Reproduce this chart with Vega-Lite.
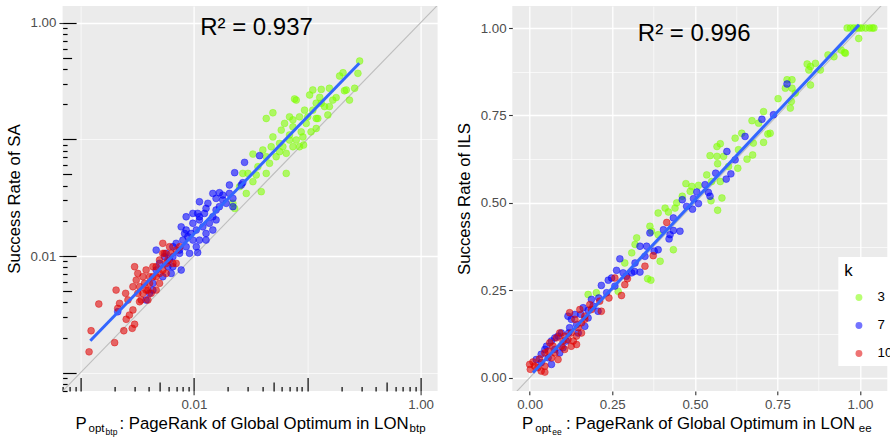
{
  "$schema": "https://vega.github.io/schema/vega-lite/v6.json",
  "autosize": {"type": "pad"},
  "padding": {"left": 6.6, "top": 6, "right": 0, "bottom": 0},
  "background": "white",
  "bounds": "flush",
  "spacing": 74.7,
  "config": {
    "font": "Liberation Sans",
    "view": {"fill": "#EBEBEB", "stroke": null},
    "axis": {"labelFont": "Liberation Sans", "titleFont": "Liberation Sans"},
    "legend": {"labelFont": "Liberation Sans", "titleFont": "Liberation Sans"}
  },
  "datasets": {
    "sa": [
      {"p":0.290,"sr":0.469,"k":"3"},{"p":0.280,"sr":0.368,"k":"3"},{"p":0.193,"sr":0.349,"k":"3"},{"p":0.207,"sr":0.372,"k":"3"},{"p":0.213,"sr":0.261,"k":"3"},{"p":0.180,"sr":0.228,"k":"3"},{"p":0.133,"sr":0.268,"k":"3"},{"p":0.112,"sr":0.265,"k":"3"},{"p":0.129,"sr":0.229,"k":"3"},{"p":0.105,"sr":0.240,"k":"3"},{"p":0.133,"sr":0.204,"k":"3"},{"p":0.0773,"sr":0.222,"k":"3"},{"p":0.0947,"sr":0.178,"k":"3"},{"p":0.112,"sr":0.178,"k":"3"},{"p":0.0855,"sr":0.156,"k":"3"},{"p":0.0698,"sr":0.156,"k":"3"},{"p":0.0631,"sr":0.137,"k":"3"},{"p":0.0498,"sr":0.169,"k":"3"},{"p":0.0435,"sr":0.151,"k":"3"},{"p":0.059,"sr":0.120,"k":"3"},{"p":0.0748,"sr":0.128,"k":"3"},{"p":0.0885,"sr":0.116,"k":"3"},{"p":0.098,"sr":0.137,"k":"3"},{"p":0.120,"sr":0.151,"k":"3"},{"p":0.108,"sr":0.116,"k":"3"},{"p":0.0916,"sr":0.105,"k":"3"},{"p":0.080,"sr":0.0987,"k":"3"},{"p":0.0698,"sr":0.0987,"k":"3"},{"p":0.057,"sr":0.0924,"k":"3"},{"p":0.0498,"sr":0.105,"k":"3"},{"p":0.0481,"sr":0.0865,"k":"3"},{"p":0.061,"sr":0.0865,"k":"3"},{"p":0.0748,"sr":0.0865,"k":"3"},{"p":0.0855,"sr":0.0865,"k":"3"},{"p":0.0653,"sr":0.0759,"k":"3"},{"p":0.057,"sr":0.0784,"k":"3"},{"p":0.0406,"sr":0.081,"k":"3"},{"p":0.0435,"sr":0.071,"k":"3"},{"p":0.0532,"sr":0.071,"k":"3"},{"p":0.0465,"sr":0.0623,"k":"3"},{"p":0.0367,"sr":0.0583,"k":"3"},{"p":0.0332,"sr":0.0748,"k":"3"},{"p":0.030,"sr":0.0511,"k":"3"},{"p":0.0355,"sr":0.0495,"k":"3"},{"p":0.0435,"sr":0.0511,"k":"3"},{"p":0.0653,"sr":0.0511,"k":"3"},{"p":0.0332,"sr":0.0434,"k":"3"},{"p":0.0393,"sr":0.0356,"k":"3"},{"p":0.0253,"sr":0.0393,"k":"3"},{"p":0.029,"sr":0.0344,"k":"3"},{"p":0.0229,"sr":0.0256,"k":"3"},{"p":0.0221,"sr":0.0283,"k":"3"},{"p":0.027,"sr":0.0511,"k":"3"},{"p":0.0929,"sr":0.0894,"k":"3"},{"p":0.0698,"sr":0.109,"k":"3"},{"p":0.120,"sr":0.124,"k":"3"},{"p":0.142,"sr":0.191,"k":"3"},{"p":0.157,"sr":0.191,"k":"3"},{"p":0.168,"sr":0.217,"k":"3"},{"p":0.124,"sr":0.151,"k":"3"},{"p":0.262,"sr":0.274,"k":"3"},{"p":0.157,"sr":0.274,"k":"3"},{"p":0.236,"sr":0.217,"k":"3"},{"p":0.080,"sr":0.217,"k":"3"},{"p":0.0748,"sr":0.147,"k":"3"},{"p":0.221,"sr":0.265,"k":"3"},{"p":0.120,"sr":0.204,"k":"3"},{"p":0.152,"sr":0.162,"k":"3"},{"p":0.101,"sr":0.156,"k":"3"},
      {"p":0.038,"sr":0.0725,"k":"7"},{"p":0.028,"sr":0.0635,"k":"7"},{"p":0.0229,"sr":0.0518,"k":"7"},{"p":0.027,"sr":0.0425,"k":"7"},{"p":0.0206,"sr":0.0406,"k":"7"},{"p":0.0168,"sr":0.0349,"k":"7"},{"p":0.0157,"sr":0.0312,"k":"7"},{"p":0.018,"sr":0.0333,"k":"7"},{"p":0.0206,"sr":0.0344,"k":"7"},{"p":0.0221,"sr":0.0312,"k":"7"},{"p":0.0147,"sr":0.0344,"k":"7"},{"p":0.0133,"sr":0.0283,"k":"7"},{"p":0.0112,"sr":0.0292,"k":"7"},{"p":0.0108,"sr":0.0232,"k":"7"},{"p":0.0124,"sr":0.0232,"k":"7"},{"p":0.0157,"sr":0.0248,"k":"7"},{"p":0.0193,"sr":0.0283,"k":"7"},{"p":0.0168,"sr":0.0265,"k":"7"},{"p":0.0147,"sr":0.0217,"k":"7"},{"p":0.0112,"sr":0.0204,"k":"7"},{"p":0.0098,"sr":0.0191,"k":"7"},{"p":0.00855,"sr":0.0167,"k":"7"},{"p":0.00947,"sr":0.0156,"k":"7"},{"p":0.0105,"sr":0.0167,"k":"7"},{"p":0.012,"sr":0.0178,"k":"7"},{"p":0.0128,"sr":0.0156,"k":"7"},{"p":0.0147,"sr":0.0167,"k":"7"},{"p":0.0157,"sr":0.0204,"k":"7"},{"p":0.008,"sr":0.0137,"k":"7"},{"p":0.00855,"sr":0.012,"k":"7"},{"p":0.0098,"sr":0.0137,"k":"7"},{"p":0.0112,"sr":0.0137,"k":"7"},{"p":0.0128,"sr":0.0137,"k":"7"},{"p":0.00748,"sr":0.01054,"k":"7"},{"p":0.00653,"sr":0.00987,"k":"7"},{"p":0.00916,"sr":0.01054,"k":"7"},{"p":0.0108,"sr":0.0107,"k":"7"},{"p":0.00773,"sr":0.00759,"k":"7"},{"p":0.00631,"sr":0.0071,"k":"7"},{"p":0.0059,"sr":0.0081,"k":"7"},{"p":0.0057,"sr":0.01054,"k":"7"},{"p":0.00498,"sr":0.00865,"k":"7"},{"p":0.00465,"sr":0.01125,"k":"7"},{"p":0.00465,"sr":0.00759,"k":"7"},{"p":0.00532,"sr":0.00665,"k":"7"},{"p":0.00435,"sr":0.00583,"k":"7"},{"p":0.00406,"sr":0.00479,"k":"7"},{"p":0.00379,"sr":0.0042,"k":"7"},{"p":0.00213,"sr":0.00333,"k":"7"},{"p":0.00748,"sr":0.01125,"k":"7"},{"p":0.00885,"sr":0.01466,"k":"7"},{"p":0.00773,"sr":0.0178,"k":"7"},{"p":0.0112,"sr":0.0217,"k":"7"},{"p":0.0128,"sr":0.0256,"k":"7"},{"p":0.00855,"sr":0.0217,"k":"7"},{"p":0.00653,"sr":0.012,"k":"7"},{"p":0.0061,"sr":0.00924,"k":"7"},{"p":0.00435,"sr":0.00511,"k":"7"},{"p":0.0221,"sr":0.0265,"k":"7"},{"p":0.0262,"sr":0.0406,"k":"7"},{"p":0.018,"sr":0.0302,"k":"7"},{"p":0.0098,"sr":0.0232,"k":"7"},{"p":0.00828,"sr":0.0156,"k":"7"},{"p":0.00698,"sr":0.01285,"k":"7"},{"p":0.0105,"sr":0.012,"k":"7"},{"p":0.0137,"sr":0.0191,"k":"7"},{"p":0.00653,"sr":0.0081,"k":"7"},{"p":0.00551,"sr":0.00987,"k":"7"},
      {"p":0.00119,"sr":0.00151,"k":"10"},{"p":0.00124,"sr":0.00229,"k":"10"},{"p":0.00145,"sr":0.00388,"k":"10"},{"p":0.002,"sr":0.00181,"k":"10"},{"p":0.00241,"sr":0.00229,"k":"10"},{"p":0.00253,"sr":0.00287,"k":"10"},{"p":0.0027,"sr":0.00312,"k":"10"},{"p":0.00286,"sr":0.0024,"k":"10"},{"p":0.003,"sr":0.0026,"k":"10"},{"p":0.00221,"sr":0.00393,"k":"10"},{"p":0.00206,"sr":0.00511,"k":"10"},{"p":0.00213,"sr":0.00356,"k":"10"},{"p":0.0025,"sr":0.00479,"k":"10"},{"p":0.00262,"sr":0.0042,"k":"10"},{"p":0.003,"sr":0.0081,"k":"10"},{"p":0.0031,"sr":0.00622,"k":"10"},{"p":0.00332,"sr":0.00546,"k":"10"},{"p":0.00343,"sr":0.0042,"k":"10"},{"p":0.00355,"sr":0.00665,"k":"10"},{"p":0.00379,"sr":0.00759,"k":"10"},{"p":0.00393,"sr":0.00511,"k":"10"},{"p":0.00406,"sr":0.00583,"k":"10"},{"p":0.00435,"sr":0.00665,"k":"10"},{"p":0.00465,"sr":0.0081,"k":"10"},{"p":0.00498,"sr":0.00924,"k":"10"},{"p":0.00532,"sr":0.01285,"k":"10"},{"p":0.00551,"sr":0.01054,"k":"10"},{"p":0.0057,"sr":0.00865,"k":"10"},{"p":0.00498,"sr":0.00583,"k":"10"},{"p":0.00465,"sr":0.00511,"k":"10"},{"p":0.0042,"sr":0.00479,"k":"10"},{"p":0.00355,"sr":0.00479,"k":"10"},{"p":0.00631,"sr":0.01054,"k":"10"},{"p":0.00698,"sr":0.01125,"k":"10"},{"p":0.0061,"sr":0.012,"k":"10"},{"p":0.00748,"sr":0.012,"k":"10"},{"p":0.0029,"sr":0.00546,"k":"10"},{"p":0.0032,"sr":0.0071,"k":"10"},{"p":0.00367,"sr":0.00583,"k":"10"},{"p":0.0029,"sr":0.00345,"k":"10"},{"p":0.00332,"sr":0.00406,"k":"10"},{"p":0.00435,"sr":0.0081,"k":"10"},{"p":0.00532,"sr":0.00759,"k":"10"},{"p":0.0057,"sr":0.0071,"k":"10"},{"p":0.00465,"sr":0.00665,"k":"10"},{"p":0.0059,"sr":0.00924,"k":"10"},{"p":0.00653,"sr":0.00865,"k":"10"},{"p":0.00406,"sr":0.00665,"k":"10"},{"p":0.00532,"sr":0.01054,"k":"10"},{"p":0.00379,"sr":0.00511,"k":"10"},{"p":0.0032,"sr":0.00479,"k":"10"},{"p":0.00698,"sr":0.00865,"k":"10"},{"p":0.00498,"sr":0.0071,"k":"10"},{"p":0.00393,"sr":0.0042,"k":"10"}
    ],
    "ils": [
      {"p":0.961,"sr":1.0,"k":"3"},{"p":0.971,"sr":1.0,"k":"3"},{"p":0.981,"sr":1.0,"k":"3"},{"p":0.991,"sr":1.0,"k":"3"},{"p":0.998,"sr":1.0,"k":"3"},{"p":1.005,"sr":1.0,"k":"3"},{"p":1.017,"sr":1.0,"k":"3"},{"p":1.029,"sr":1.0,"k":"3"},{"p":1.037,"sr":1.0,"k":"3"},{"p":1.042,"sr":1.0,"k":"3"},{"p":0.996,"sr":0.970,"k":"3"},{"p":0.953,"sr":0.930,"k":"3"},{"p":0.943,"sr":0.937,"k":"3"},{"p":0.921,"sr":0.918,"k":"3"},{"p":0.903,"sr":0.923,"k":"3"},{"p":0.956,"sr":0.928,"k":"3"},{"p":0.865,"sr":0.899,"k":"3"},{"p":0.850,"sr":0.890,"k":"3"},{"p":0.840,"sr":0.897,"k":"3"},{"p":0.845,"sr":0.880,"k":"3"},{"p":0.880,"sr":0.880,"k":"3"},{"p":0.850,"sr":0.837,"k":"3"},{"p":0.794,"sr":0.852,"k":"3"},{"p":0.779,"sr":0.852,"k":"3"},{"p":0.774,"sr":0.828,"k":"3"},{"p":0.794,"sr":0.828,"k":"3"},{"p":0.789,"sr":0.771,"k":"3"},{"p":0.792,"sr":0.790,"k":"3"},{"p":0.752,"sr":0.798,"k":"3"},{"p":0.708,"sr":0.761,"k":"3"},{"p":0.673,"sr":0.735,"k":"3"},{"p":0.708,"sr":0.673,"k":"3"},{"p":0.728,"sr":0.699,"k":"3"},{"p":0.721,"sr":0.697,"k":"3"},{"p":0.677,"sr":0.671,"k":"3"},{"p":0.642,"sr":0.699,"k":"3"},{"p":0.658,"sr":0.625,"k":"3"},{"p":0.675,"sr":0.637,"k":"3"},{"p":0.630,"sr":0.599,"k":"3"},{"p":0.632,"sr":0.652,"k":"3"},{"p":0.577,"sr":0.669,"k":"3"},{"p":0.567,"sr":0.661,"k":"3"},{"p":0.546,"sr":0.635,"k":"3"},{"p":0.567,"sr":0.633,"k":"3"},{"p":0.587,"sr":0.633,"k":"3"},{"p":0.602,"sr":0.604,"k":"3"},{"p":0.569,"sr":0.612,"k":"3"},{"p":0.536,"sr":0.580,"k":"3"},{"p":0.551,"sr":0.561,"k":"3"},{"p":0.577,"sr":0.561,"k":"3"},{"p":0.582,"sr":0.514,"k":"3"},{"p":0.569,"sr":0.479,"k":"3"},{"p":0.549,"sr":0.506,"k":"3"},{"p":0.511,"sr":0.550,"k":"3"},{"p":0.491,"sr":0.547,"k":"3"},{"p":0.473,"sr":0.555,"k":"3"},{"p":0.486,"sr":0.533,"k":"3"},{"p":0.462,"sr":0.519,"k":"3"},{"p":0.445,"sr":0.500,"k":"3"},{"p":0.440,"sr":0.485,"k":"3"},{"p":0.410,"sr":0.485,"k":"3"},{"p":0.420,"sr":0.474,"k":"3"},{"p":0.389,"sr":0.471,"k":"3"},{"p":0.364,"sr":0.433,"k":"3"},{"p":0.369,"sr":0.419,"k":"3"},{"p":0.389,"sr":0.409,"k":"3"},{"p":0.435,"sr":0.366,"k":"3"},{"p":0.395,"sr":0.333,"k":"3"},{"p":0.367,"sr":0.279,"k":"3"},{"p":0.357,"sr":0.283,"k":"3"},{"p":0.324,"sr":0.400,"k":"3"},{"p":0.309,"sr":0.357,"k":"3"},{"p":0.319,"sr":0.381,"k":"3"},{"p":0.288,"sr":0.328,"k":"3"},{"p":0.268,"sr":0.247,"k":"3"},{"p":0.177,"sr":0.238,"k":"3"},{"p":0.202,"sr":0.243,"k":"3"},{"p":0.804,"sr":0.814,"k":"3"},{"p":0.693,"sr":0.728,"k":"3"},{"p":0.622,"sr":0.685,"k":"3"},
      {"p":0.779,"sr":0.840,"k":"7"},{"p":0.703,"sr":0.739,"k":"7"},{"p":0.738,"sr":0.752,"k":"7"},{"p":0.652,"sr":0.690,"k":"7"},{"p":0.597,"sr":0.647,"k":"7"},{"p":0.622,"sr":0.623,"k":"7"},{"p":0.609,"sr":0.583,"k":"7"},{"p":0.595,"sr":0.568,"k":"7"},{"p":0.563,"sr":0.585,"k":"7"},{"p":0.546,"sr":0.519,"k":"7"},{"p":0.541,"sr":0.530,"k":"7"},{"p":0.531,"sr":0.552,"k":"7"},{"p":0.506,"sr":0.531,"k":"7"},{"p":0.496,"sr":0.512,"k":"7"},{"p":0.511,"sr":0.498,"k":"7"},{"p":0.493,"sr":0.482,"k":"7"},{"p":0.462,"sr":0.509,"k":"7"},{"p":0.475,"sr":0.490,"k":"7"},{"p":0.435,"sr":0.457,"k":"7"},{"p":0.455,"sr":0.419,"k":"7"},{"p":0.435,"sr":0.421,"k":"7"},{"p":0.425,"sr":0.409,"k":"7"},{"p":0.422,"sr":0.397,"k":"7"},{"p":0.405,"sr":0.423,"k":"7"},{"p":0.389,"sr":0.366,"k":"7"},{"p":0.377,"sr":0.362,"k":"7"},{"p":0.364,"sr":0.414,"k":"7"},{"p":0.354,"sr":0.376,"k":"7"},{"p":0.334,"sr":0.376,"k":"7"},{"p":0.349,"sr":0.347,"k":"7"},{"p":0.319,"sr":0.328,"k":"7"},{"p":0.334,"sr":0.302,"k":"7"},{"p":0.309,"sr":0.300,"k":"7"},{"p":0.293,"sr":0.290,"k":"7"},{"p":0.273,"sr":0.340,"k":"7"},{"p":0.263,"sr":0.307,"k":"7"},{"p":0.248,"sr":0.285,"k":"7"},{"p":0.238,"sr":0.279,"k":"7"},{"p":0.217,"sr":0.264,"k":"7"},{"p":0.233,"sr":0.243,"k":"7"},{"p":0.209,"sr":0.228,"k":"7"},{"p":0.187,"sr":0.224,"k":"7"},{"p":0.192,"sr":0.205,"k":"7"},{"p":0.177,"sr":0.193,"k":"7"},{"p":0.162,"sr":0.200,"k":"7"},{"p":0.155,"sr":0.181,"k":"7"},{"p":0.137,"sr":0.181,"k":"7"},{"p":0.126,"sr":0.167,"k":"7"},{"p":0.116,"sr":0.176,"k":"7"},{"p":0.142,"sr":0.152,"k":"7"},{"p":0.167,"sr":0.147,"k":"7"},{"p":0.121,"sr":0.143,"k":"7"},{"p":0.096,"sr":0.128,"k":"7"},{"p":0.086,"sr":0.119,"k":"7"},{"p":0.076,"sr":0.114,"k":"7"},{"p":0.066,"sr":0.105,"k":"7"},{"p":0.051,"sr":0.090,"k":"7"},{"p":0.046,"sr":0.081,"k":"7"},{"p":0.035,"sr":0.067,"k":"7"},{"p":0.066,"sr":0.038,"k":"7"},{"p":0.076,"sr":0.081,"k":"7"},{"p":0.101,"sr":0.086,"k":"7"},{"p":0.111,"sr":0.105,"k":"7"},{"p":0.091,"sr":0.071,"k":"7"},{"p":0.118,"sr":0.128,"k":"7"},{"p":0.147,"sr":0.128,"k":"7"},{"p":0.177,"sr":0.171,"k":"7"},{"p":0.207,"sr":0.190,"k":"7"},{"p":0.317,"sr":0.304,"k":"7"},{"p":0.283,"sr":0.300,"k":"7"},{"p":0.258,"sr":0.262,"k":"7"},{"p":0.035,"sr":0.043,"k":"7"},{"p":0.056,"sr":0.057,"k":"7"},{"p":0.020,"sr":0.052,"k":"7"},
      {"p":0.000,"sr":0.038,"k":"10"},{"p":0.010,"sr":0.045,"k":"10"},{"p":0.002,"sr":0.024,"k":"10"},{"p":0.035,"sr":0.019,"k":"10"},{"p":0.046,"sr":0.016,"k":"10"},{"p":0.025,"sr":0.029,"k":"10"},{"p":0.046,"sr":0.033,"k":"10"},{"p":0.066,"sr":0.057,"k":"10"},{"p":0.071,"sr":0.090,"k":"10"},{"p":0.081,"sr":0.114,"k":"10"},{"p":0.076,"sr":0.071,"k":"10"},{"p":0.096,"sr":0.090,"k":"10"},{"p":0.101,"sr":0.105,"k":"10"},{"p":0.106,"sr":0.119,"k":"10"},{"p":0.116,"sr":0.109,"k":"10"},{"p":0.126,"sr":0.128,"k":"10"},{"p":0.132,"sr":0.105,"k":"10"},{"p":0.142,"sr":0.119,"k":"10"},{"p":0.147,"sr":0.143,"k":"10"},{"p":0.152,"sr":0.195,"k":"10"},{"p":0.157,"sr":0.157,"k":"10"},{"p":0.121,"sr":0.186,"k":"10"},{"p":0.137,"sr":0.167,"k":"10"},{"p":0.167,"sr":0.176,"k":"10"},{"p":0.182,"sr":0.209,"k":"10"},{"p":0.187,"sr":0.195,"k":"10"},{"p":0.212,"sr":0.219,"k":"10"},{"p":0.217,"sr":0.190,"k":"10"},{"p":0.240,"sr":0.228,"k":"10"},{"p":0.258,"sr":0.285,"k":"10"},{"p":0.278,"sr":0.235,"k":"10"},{"p":0.288,"sr":0.266,"k":"10"},{"p":0.296,"sr":0.283,"k":"10"},{"p":0.349,"sr":0.319,"k":"10"},{"p":0.374,"sr":0.349,"k":"10"},{"p":0.415,"sr":0.444,"k":"10"},{"p":0.091,"sr":0.128,"k":"10"},{"p":0.061,"sr":0.100,"k":"10"},{"p":0.056,"sr":0.076,"k":"10"},{"p":0.086,"sr":0.052,"k":"10"},{"p":0.030,"sr":0.054,"k":"10"},{"p":0.106,"sr":0.081,"k":"10"},{"p":0.157,"sr":0.128,"k":"10"},{"p":0.046,"sr":0.071,"k":"10"},{"p":0.015,"sr":0.033,"k":"10"},{"p":0.126,"sr":0.090,"k":"10"},{"p":0.167,"sr":0.167,"k":"10"},{"p":0.142,"sr":0.095,"k":"10"}
    ],
    "fitL": [{"p":0.00122,"sr":0.00188},{"p":0.288,"sr":0.449}],
    "fitR": [{"p":0.010,"sr":0.014},{"p":0.997,"sr":1.009}],
    "diagL": [{"p":0.0001,"sr":0.0001},{"p":100,"sr":100}],
    "diagR": [{"p":-1,"sr":-1},{"p":3,"sr":3}],
    "r2L": [{"p":0.0357,"sr":0.784,"label":"R² = 0.937"}],
    "r2R": [{"p":0.498,"sr":0.964,"label":"R² = 0.996"}]
  },
  "resolve": {"scale": {"color": "independent", "stroke": "independent"}, "legend": {"color": "independent", "stroke": "independent"}},
  "hconcat": [
    {
      "width": 375,
      "height": 385,
      "layer": [
        {
          "data": {"name": "diagL"},
          "mark": {"type": "line", "color": "#BEBEBE", "strokeWidth": 1.1, "clip": true},
          "encoding": {
            "x": {"field": "p", "type": "quantitative", "scale": {"type": "log", "domain": [0.000695, 1.413], "nice": false},
              "axis": {"orient": "bottom", "labels": false, "ticks": false, "domain": false, "grid": false,
                "title": "btp", "titleFontSize": 11.5, "titleFontWeight": "normal", "titleColor": "black", "titleAlign": "left", "titleBaseline": "alphabetic", "titleAngle": 0, "titleX": 346.5, "titleY": 41}},
            "y": {"field": "sr", "type": "quantitative", "scale": {"type": "log", "domain": [0.000697, 1.39], "nice": false}, "axis": null}
          }
        },
        {
          "data": {"name": "sa"},
          "mark": {"type": "circle", "size": 47, "fillOpacity": 0.58, "strokeOpacity": 0.58, "strokeWidth": 0.7},
          "encoding": {
            "x": {"field": "p", "type": "quantitative", "scale": {"type": "log", "domain": [0.000695, 1.413], "nice": false},
              "axis": {"orient": "bottom", "values": [0.001, 0.01, 0.1, 1],
                "labelExpr": "datum.value == 0.01 ? '0.01' : (datum.value == 1 ? '1.00' : '')",
                "labelOverlap": false, "labelFlush": false, "labelFontSize": 13.3, "labelColor": "#4D4D4D", "labelPadding": 2.5,
                "tickSize": 3.7, "tickColor": "#333333", "tickWidth": 1.1,
                "tickOpacity": {"condition": {"test": "datum.value == 0.01 || datum.value == 1", "value": 1}, "value": 0},
                "domain": false, "grid": true, "gridColor": "white",
                "gridWidth": {"condition": {"test": "datum.value == 0.01 || datum.value == 1", "value": 1.3}, "value": 0.65},
                "title": "P\u00a0\u00a0\u00a0\u00a0\u00a0\u00a0\u00a0: PageRank of Global Optimum in LON",
                "titleFontSize": 16.8, "titleFontWeight": "normal", "titleColor": "black", "titleAlign": "left", "titleBaseline": "alphabetic", "titleAngle": 0, "titleX": 12.5, "titleY": 37.3}},
            "y": {"field": "sr", "type": "quantitative", "scale": {"type": "log", "domain": [0.000697, 1.39], "nice": false},
              "axis": {"orient": "left", "values": [0.001, 0.01, 0.1, 1],
                "labelExpr": "datum.value == 0.01 ? '0.01' : (datum.value == 1 ? '1.00' : '')",
                "labelOverlap": false, "labelFlush": false, "labelFontSize": 13.3, "labelColor": "#4D4D4D", "labelPadding": 3,
                "tickSize": 3.7, "tickColor": "#333333", "tickWidth": 1.1,
                "tickOpacity": {"condition": {"test": "datum.value == 0.01 || datum.value == 1", "value": 1}, "value": 0},
                "domain": false, "grid": true, "gridColor": "white",
                "gridWidth": {"condition": {"test": "datum.value == 0.01 || datum.value == 1", "value": 1.3}, "value": 0.65},
                "title": "Success Rate of SA", "titleFontSize": 16.8, "titleFontWeight": "normal", "titleColor": "black",
                "titleAngle": 270, "titleAlign": "center", "titleBaseline": "middle", "titleX": -48, "titleY": 192.5}},
            "color": {"field": "k", "type": "nominal", "scale": {"domain": ["3", "7", "10"], "range": ["#7FFF00", "#0000FF", "#E00000"]}, "legend": null},
            "stroke": {"field": "k", "type": "nominal", "scale": {"domain": ["3", "7", "10"], "range": ["#7FFF00", "#0000FF", "#E00000"]}, "legend": null}
          }
        },
        {
          "data": {"name": "fitL"},
          "mark": {"type": "line", "color": "#3366FF", "strokeWidth": 3},
          "encoding": {
            "x": {"field": "p", "type": "quantitative", "scale": {"type": "log", "domain": [0.000695, 1.413], "nice": false},
              "axis": {"orient": "bottom",
                "values": [0.0007,0.0008,0.0009,0.001,0.002,0.003,0.004,0.005,0.006,0.007,0.008,0.009,0.01,0.02,0.03,0.04,0.05,0.06,0.07,0.08,0.09,0.1,0.2,0.3,0.4,0.5,0.6,0.7,0.8,0.9,1],
                "labels": false, "domain": false, "grid": false, "tickColor": "black", "tickWidth": 1.2, "tickSize": -4.5,
                "encoding": {"ticks": {"y2": {"value": {"expr": "indexof([0.001,0.01,0.1,1], datum.value) >= 0 ? -13.5 : (indexof([0.005,0.05,0.5], datum.value) >= 0 ? -9 : -4.5)"}}}},
                "title": "opt", "titleFontSize": 11.5, "titleFontWeight": "normal", "titleColor": "black", "titleAlign": "left", "titleBaseline": "alphabetic", "titleAngle": 0, "titleX": 25.5, "titleY": 41}},
            "y": {"field": "sr", "type": "quantitative", "scale": {"type": "log", "domain": [0.000697, 1.39], "nice": false},
              "axis": {"orient": "left",
                "values": [0.0007,0.0008,0.0009,0.001,0.002,0.003,0.004,0.005,0.006,0.007,0.008,0.009,0.01,0.02,0.03,0.04,0.05,0.06,0.07,0.08,0.09,0.1,0.2,0.3,0.4,0.5,0.6,0.7,0.8,0.9,1],
                "labels": false, "domain": false, "grid": false, "tickColor": "black", "tickWidth": 1.2, "tickSize": -4.5,
                "encoding": {"ticks": {"x2": {"value": {"expr": "indexof([0.001,0.01,0.1,1], datum.value) >= 0 ? 13.5 : (indexof([0.005,0.05,0.5], datum.value) >= 0 ? 9 : 4.5)"}}}},
                "title": null}}
          }
        },
        {
          "data": {"name": "r2L"},
          "mark": {"type": "text", "fontSize": 24, "font": "Liberation Sans", "align": "center", "baseline": "alphabetic", "color": "black"},
          "encoding": {
            "x": {"field": "p", "type": "quantitative", "scale": {"type": "log", "domain": [0.000695, 1.413], "nice": false},
              "axis": {"orient": "bottom", "labels": false, "ticks": false, "domain": false, "grid": false,
                "title": "btp", "titleFontSize": 8.5, "titleFontWeight": "normal", "titleColor": "black", "titleAlign": "left", "titleBaseline": "alphabetic", "titleAngle": 0, "titleX": 42.5, "titleY": 44}},
            "y": {"field": "sr", "type": "quantitative", "scale": {"type": "log", "domain": [0.000697, 1.39], "nice": false}, "axis": null},
            "text": {"field": "label"}
          }
        }
      ],
      "resolve": {"axis": {"x": "independent", "y": "independent"}}
    },
    {
      "width": 375,
      "height": 385,
      "layer": [
        {
          "data": {"name": "diagR"},
          "mark": {"type": "line", "color": "#BEBEBE", "strokeWidth": 1.1, "clip": true},
          "encoding": {
            "x": {"field": "p", "type": "quantitative", "scale": {"domain": [-0.0525, 1.0825], "nice": false, "zero": false},
              "axis": {"orient": "bottom", "labels": false, "ticks": false, "domain": false, "grid": false,
                "title": "ee", "titleFontSize": 11.5, "titleFontWeight": "normal", "titleColor": "black", "titleAlign": "left", "titleBaseline": "alphabetic", "titleAngle": 0, "titleX": 346, "titleY": 41}},
            "y": {"field": "sr", "type": "quantitative", "scale": {"domain": [-0.038, 1.063], "nice": false, "zero": false}, "axis": null}
          }
        },
        {
          "data": {"name": "ils"},
          "mark": {"type": "circle", "size": 47, "fillOpacity": 0.58, "strokeOpacity": 0.58, "strokeWidth": 0.7},
          "encoding": {
            "x": {"field": "p", "type": "quantitative", "scale": {"domain": [-0.0525, 1.0825], "nice": false, "zero": false},
              "axis": {"orient": "bottom", "values": [0, 0.125, 0.25, 0.375, 0.5, 0.625, 0.75, 0.875, 1],
                "labelExpr": "(datum.value * 4) % 1 == 0 ? format(datum.value, '.2f') : ''",
                "labelOverlap": false, "labelFlush": false, "labelFontSize": 13.3, "labelColor": "#4D4D4D", "labelPadding": 2.5,
                "tickSize": 3.7, "tickColor": "#333333", "tickWidth": 1.1,
                "tickOpacity": {"condition": {"test": "(datum.value * 4) % 1 == 0", "value": 1}, "value": 0},
                "domain": false, "grid": true, "gridColor": "white",
                "gridWidth": {"condition": {"test": "(datum.value * 4) % 1 == 0", "value": 1.3}, "value": 0.65},
                "title": "P\u00a0\u00a0\u00a0\u00a0\u00a0\u00a0\u00a0: PageRank of Global Optimum in LON",
                "titleFontSize": 16.8, "titleFontWeight": "normal", "titleColor": "black", "titleAlign": "left", "titleBaseline": "alphabetic", "titleAngle": 0, "titleX": 9.3, "titleY": 37.3}},
            "y": {"field": "sr", "type": "quantitative", "scale": {"domain": [-0.038, 1.063], "nice": false, "zero": false},
              "axis": {"orient": "left", "values": [0, 0.125, 0.25, 0.375, 0.5, 0.625, 0.75, 0.875, 1],
                "labelExpr": "(datum.value * 4) % 1 == 0 ? format(datum.value, '.2f') : ''",
                "labelOverlap": false, "labelFlush": false, "labelFontSize": 13.3, "labelColor": "#4D4D4D", "labelPadding": 2.5,
                "tickSize": 3.7, "tickColor": "#333333", "tickWidth": 1.1,
                "tickOpacity": {"condition": {"test": "(datum.value * 4) % 1 == 0", "value": 1}, "value": 0},
                "domain": false, "grid": true, "gridColor": "white",
                "gridWidth": {"condition": {"test": "(datum.value * 4) % 1 == 0", "value": 1.3}, "value": 0.65},
                "title": "Success Rate of ILS", "titleFontSize": 16.8, "titleFontWeight": "normal", "titleColor": "black",
                "titleAngle": 270, "titleAlign": "center", "titleBaseline": "middle", "titleX": -48, "titleY": 192.5}},
            "color": {"field": "k", "type": "nominal", "scale": {"domain": ["3", "7", "10"], "range": ["#7FFF00", "#0000FF", "#E00000"]},
              "legend": {"orient": "none", "legendX": 326, "legendY": 251, "title": "k", "titleFontSize": 16.8, "titleFontWeight": "normal", "titleColor": "black", "titlePadding": 11,
                "labelFontSize": 13.3, "labelColor": "black", "fillColor": "white", "padding": 6, "symbolType": "circle", "symbolSize": 47, "symbolOpacity": 0.55, "symbolStrokeWidth": 0, "rowPadding": 14, "symbolOffset": 8, "labelOffset": 12}},
            "stroke": {"field": "k", "type": "nominal", "scale": {"domain": ["3", "7", "10"], "range": ["#7FFF00", "#0000FF", "#E00000"]}, "legend": null}
          }
        },
        {
          "data": {"name": "fitR"},
          "mark": {"type": "line", "color": "#3366FF", "strokeWidth": 3},
          "encoding": {
            "x": {"field": "p", "type": "quantitative", "scale": {"domain": [-0.0525, 1.0825], "nice": false, "zero": false},
              "axis": {"orient": "bottom", "labels": false, "ticks": false, "domain": false, "grid": false,
                "title": "opt", "titleFontSize": 11.5, "titleFontWeight": "normal", "titleColor": "black", "titleAlign": "left", "titleBaseline": "alphabetic", "titleAngle": 0, "titleX": 22.5, "titleY": 41}},
            "y": {"field": "sr", "type": "quantitative", "scale": {"domain": [-0.038, 1.063], "nice": false, "zero": false}, "axis": null}
          }
        },
        {
          "data": {"name": "r2R"},
          "mark": {"type": "text", "fontSize": 24, "font": "Liberation Sans", "align": "center", "baseline": "alphabetic", "color": "black"},
          "encoding": {
            "x": {"field": "p", "type": "quantitative", "scale": {"domain": [-0.0525, 1.0825], "nice": false, "zero": false},
              "axis": {"orient": "bottom", "labels": false, "ticks": false, "domain": false, "grid": false,
                "title": "ee", "titleFontSize": 8.5, "titleFontWeight": "normal", "titleColor": "black", "titleAlign": "left", "titleBaseline": "alphabetic", "titleAngle": 0, "titleX": 39.5, "titleY": 44}},
            "y": {"field": "sr", "type": "quantitative", "scale": {"domain": [-0.038, 1.063], "nice": false, "zero": false}, "axis": null},
            "text": {"field": "label"}
          }
        }
      ],
      "resolve": {"axis": {"x": "independent", "y": "independent"}}
    }
  ]
}
